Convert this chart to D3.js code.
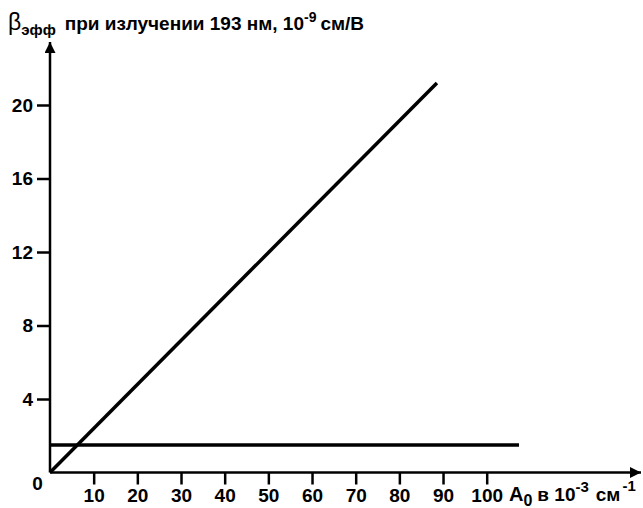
<!DOCTYPE html>
<html>
<head>
<meta charset="utf-8">
<script src="https://cdn.jsdelivr.net/npm/d3@7"></script>
<style>
  body { margin: 0; background: #fff; }
  text { font-family: "Liberation Sans", Arial, sans-serif; fill: #000; }
</style>
</head>
<body>
<div id="chart"></div>
<script>
// values
var xTicks = [10, 20, 30, 40, 50, 60, 70, 80, 90, 100];
var yTicks = [4, 8, 12, 16, 20];
var steepLine = [[0, 0], [88.6, 21.2]];
var flatLine = [[0, 1.5], [107.4, 1.5]];

var width = 643, height = 508;

var svg = d3.select("#chart").append("svg")
    .attr("width", width)
    .attr("height", height);

var x = d3.scaleLinear().domain([0, 100]).range([50, 486.7]);
var y = d3.scaleLinear().domain([0, 20]).range([472.5, 105]);

// arrow heads
var defs = svg.append("defs");
defs.append("marker")
    .attr("id", "arrow")
    .attr("viewBox", "0 0 10 10")
    .attr("refX", 10).attr("refY", 5)
    .attr("markerUnits", "userSpaceOnUse")
    .attr("markerWidth", 16).attr("markerHeight", 11)
    .attr("orient", "auto")
    .append("path")
    .attr("d", "M0,0 L10,5 L0,10 Z")
    .attr("fill", "#000");

// axes lines
svg.append("line")
    .attr("x1", x(0)).attr("y1", y(0))
    .attr("x2", 641).attr("y2", y(0))
    .attr("stroke", "#000").attr("stroke-width", 2.5)
    .attr("marker-end", "url(#arrow)");

svg.append("line")
    .attr("x1", x(0)).attr("y1", y(0))
    .attr("x2", x(0)).attr("y2", 42)
    .attr("stroke", "#000").attr("stroke-width", 2.5)
    .attr("marker-end", "url(#arrow)");

var yAxis = d3.axisLeft(y).tickValues(yTicks).tickSize(13).tickPadding(4);
var yg = svg.append("g")
    .attr("transform", "translate(" + x(0) + ",0)")
    .call(yAxis);
yg.select(".domain").remove();
yg.selectAll(".tick line").attr("stroke", "#000").attr("stroke-width", 2.5);
yg.selectAll(".tick text")
    .attr("font-family", "'Liberation Sans', Arial, sans-serif")
    .attr("font-size", 19).attr("font-weight", "bold");

var xAxis = d3.axisBottom(x).tickValues(xTicks).tickSize(12).tickPadding(4);
var xg = svg.append("g")
    .attr("transform", "translate(0," + y(0) + ")")
    .call(xAxis);
xg.select(".domain").remove();
xg.selectAll(".tick line").attr("stroke", "#000").attr("stroke-width", 2.5);
xg.selectAll(".tick text")
    .attr("font-family", "'Liberation Sans', Arial, sans-serif")
    .attr("font-size", 19).attr("font-weight", "bold");

// origin label
svg.append("text")
    .attr("x", 37.5).attr("y", 490)
    .attr("text-anchor", "middle")
    .attr("font-size", 19).attr("font-weight", "bold")
    .text("0");

// data lines
var line = d3.line().x(function (d) { return x(d[0]); }).y(function (d) { return y(d[1]); });

svg.append("path")
    .datum(steepLine)
    .attr("d", line)
    .attr("fill", "none").attr("stroke", "#000").attr("stroke-width", 3.5);

svg.append("path")
    .datum(flatLine)
    .attr("d", line)
    .attr("fill", "none").attr("stroke", "#000").attr("stroke-width", 3.5);

// y axis title
var yt = svg.append("text").attr("x", 8).attr("y", 30).attr("font-weight", "bold");
yt.append("tspan").attr("font-size", 23).attr("font-weight", "normal").text("β");
yt.append("tspan").attr("font-size", 15).attr("dy", 5).text("эфф");
yt.append("tspan").attr("font-size", 19).attr("dy", -5).attr("dx", 9).text("при излучении 193 нм, 10");
yt.append("tspan").attr("font-size", 14).attr("dy", -8).text("-9");
yt.append("tspan").attr("font-size", 19).attr("dy", 8).attr("dx", 4).text("см/В");

// x axis title
var xt = svg.append("text").attr("x", 509).attr("y", 501).attr("font-weight", "bold");
xt.append("tspan").attr("font-size", 20).text("A");
xt.append("tspan").attr("font-size", 16).attr("dy", 5).text("0");
xt.append("tspan").attr("font-size", 19).attr("dy", -5).attr("dx", 5).text("в 10");
xt.append("tspan").attr("font-size", 15).attr("dy", -9).text("-3");
xt.append("tspan").attr("font-size", 19).attr("dy", 9).attr("dx", 7).text("см");
xt.append("tspan").attr("font-size", 15).attr("dy", -10).attr("dx", 2).text("-1");
</script>
</body>
</html>
